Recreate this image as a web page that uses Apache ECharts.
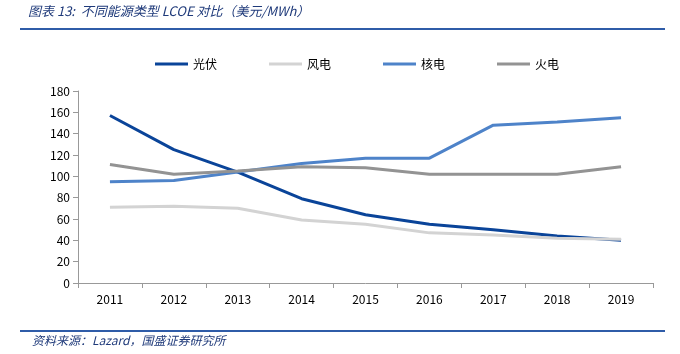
<!DOCTYPE html>
<html>
<head>
<meta charset="utf-8">
<script src="https://cdn.jsdelivr.net/npm/echarts@6/dist/echarts.min.js"></script>
<style>
html, body { margin: 0; padding: 0; background: #fff; }
#main { width: 680px; height: 354px; }
</style>
</head>
<body>
<div id="main"></div>
<script>
var years = ['2011', '2012', '2013', '2014', '2015', '2016', '2017', '2018', '2019'];
var solar = [157, 125, 104, 79, 64, 55, 50, 44, 40];
var wind = [71, 72, 70, 59, 55, 47, 45, 42, 41];
var nuclear = [95, 96, 104, 112, 117, 117, 148, 151, 155];
var thermal = [111, 102, 105, 109, 108, 102, 102, 102, 109];

var myChart = echarts.init(document.getElementById('main'));
var font = '"Noto Sans CJK SC", "DejaVu Sans", sans-serif';

function line(name, data, color) {
    return {
        name: name,
        type: 'line',
        data: data,
        symbol: 'none',
        lineStyle: { color: color, width: 3 },
        itemStyle: { color: color }
    };
}

var option = {
    animation: false,
    textStyle: { fontFamily: font },
    grid: { left: 78, right: 27, top: 91, bottom: 71 },
    legend: {
        top: 53,
        left: 150,
        itemGap: 52,
        itemWidth: 33,
        itemHeight: 3,
        icon: 'rect',
        textStyle: { fontSize: 12, color: '#000', fontFamily: font },
        data: ['光伏', '风电', '核电', '火电']
    },
    xAxis: {
        type: 'category',
        data: years,
        boundaryGap: true,
        axisLine: { lineStyle: { color: '#999' } },
        axisTick: { show: true, length: 5, lineStyle: { color: '#999' } },
        axisLabel: { color: '#000', fontSize: 12, margin: 10 }
    },
    yAxis: {
        type: 'value',
        min: 0,
        max: 180,
        interval: 20,
        splitLine: { show: false },
        axisLine: { show: true, lineStyle: { color: '#999' } },
        axisTick: { show: true, length: 5, lineStyle: { color: '#999' } },
        axisLabel: { color: '#000', fontSize: 12, margin: 8 }
    },
    graphic: [
        {
            type: 'text', left: 28, top: 5,
            style: { text: '图表 13:  不同能源类型 LCOE 对比（美元/MWh）', font: 'italic 13px ' + font, fill: '#1f3a7a' }
        },
        {
            type: 'line', shape: { x1: 20, y1: 29, x2: 665, y2: 29 },
            style: { stroke: '#2f5ca8', lineWidth: 2 }
        },
        {
            type: 'line', shape: { x1: 20, y1: 331, x2: 665, y2: 331 },
            style: { stroke: '#2f5ca8', lineWidth: 2 }
        },
        {
            type: 'text', left: 32, top: 334,
            style: { text: '资料来源：Lazard，国盛证券研究所', font: 'italic 12px ' + font, fill: '#1f3a7a' }
        }
    ],
    series: [
        line('光伏', solar, '#0a4499'),
        line('风电', wind, '#d3d3d3'),
        line('核电', nuclear, '#4e83c9'),
        line('火电', thermal, '#939393')
    ]
};
myChart.setOption(option);
</script>
</body>
</html>
